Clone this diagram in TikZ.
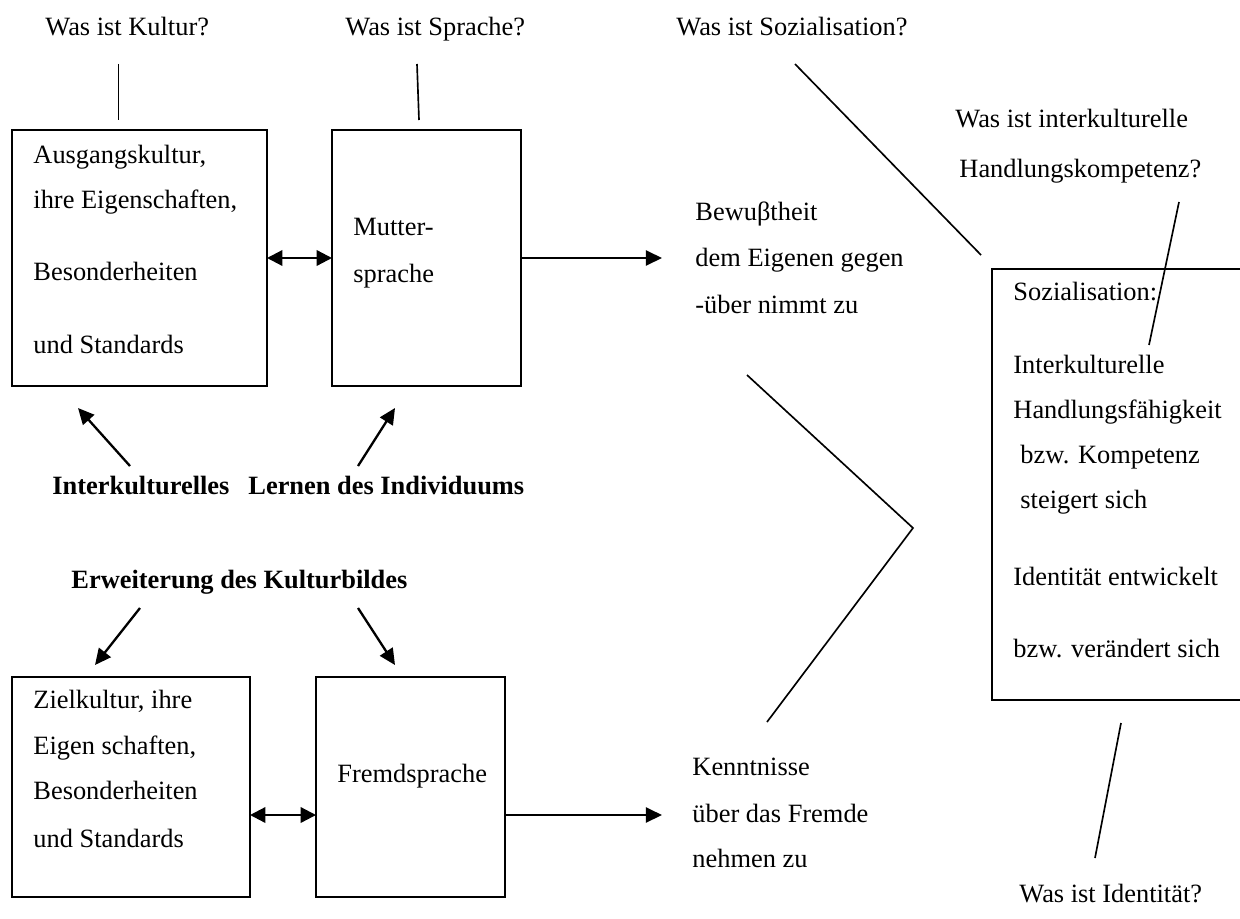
\documentclass[tikz,border=0pt]{standalone}
\usepackage{fontspec}
\setmainfont{Liberation Serif}
\usetikzlibrary{arrows.meta}
\newcommand\pxu{0.4545pt}
\begin{document}
\begin{tikzpicture}[x=0.4545pt,y=-0.4545pt,
  lbl/.style={anchor=mid west, inner sep=0pt, font=\fontsize{12}{14}\selectfont},
  blbl/.style={anchor=mid west, inner sep=0pt, font=\fontsize{12}{14}\selectfont\bfseries},
  frame/.style={draw, line width=0.9pt, anchor=north west, inner sep=0pt, outer sep=0pt},
  thinline/.style={line width=0.75pt},
  arr/.style={line width=1.05pt, -{Triangle[length=7.3pt,width=6.8pt]}},
  dbl/.style={line width=1.05pt, {Triangle[length=7pt,width=7pt]}-{Triangle[length=7pt,width=7pt]}}]

\useasboundingbox (0,0) rectangle (1240,918);
\fill[white] (0,0) rectangle (1240,918);
\clip (0,0) rectangle (1240,918);

% boxes
\node[frame, minimum width=255*\pxu, minimum height=256*\pxu] (boxA) at (12,130) {};
\node[frame, minimum width=189*\pxu, minimum height=256*\pxu] (boxB) at (332,130) {};
\node[frame, minimum width=238*\pxu, minimum height=220*\pxu] (boxC) at (12,677) {};
\node[frame, minimum width=189*\pxu, minimum height=220*\pxu] (boxD) at (316,677) {};
\node[frame, minimum width=268*\pxu, minimum height=431*\pxu] (boxE) at (992,269) {};

% questions
\node[lbl] (qKultur) at (45,30) {Was ist Kultur?};
\node[lbl] (qSprache) at (345,30) {Was ist Sprache?};
\node[lbl] (qSoz) at (676,30) {Was ist Sozialisation?};
\node[lbl] (qIkA) at (955,122) {Was ist interkulturelle};
\node[lbl] (qIkB) at (959,172) {Handlungskompetenz?};
\node[lbl] (qIdent) at (1019,897) {Was ist Identität?};

% text of the first box
\node[lbl] (a1) at (33,158) {Ausgangskultur,};
\node[lbl] (a2) at (33,203) {ihre Eigenschaften,};
\node[lbl] (a3) at (33,275) {Besonderheiten};
\node[lbl] (a4) at (33,348) {und Standards};
\node[lbl] (b1) at (353,230) {Mutter-};
\node[lbl] (b2) at (353,277) {sprache};

% text of the lower boxes
\node[lbl] (c1) at (33,703) {Zielkultur, ihre};
\node[lbl] (c2) at (33,749) {Eigen schaften,};
\node[lbl] (c3) at (33,794) {Besonderheiten};
\node[lbl] (c4) at (33,842) {und Standards};
\node[lbl] (d1) at (337,777) {Fremdsprache};

% outcomes
\node[lbl] (bew1) at (695,215) {Bewuβtheit};
\node[lbl] (bew2) at (695,261) {dem Eigenen gegen};
\node[lbl] (bew3) at (695,308) {-über nimmt zu};
\node[lbl] (ken1) at (692,770) {Kenntnisse};
\node[lbl] (ken2) at (692,817) {über das Fremde};
\node[lbl] (ken3) at (692,862) {nehmen zu};

% socialisation box
\node[lbl] (e1) at (1013,295) {Sozialisation:};
\node[lbl] (e2) at (1013,368) {Interkulturelle};
\node[lbl] (e3) at (1013,413) {Handlungsfähigkeit};
\node[lbl] (e4) at (1020,458) {bzw. Kompetenz};
\node[lbl] (e5) at (1020,503) {steigert sich};
\node[lbl] (e6) at (1013,580) {Identität entwickelt};
\node[lbl] (e7) at (1013,652) {bzw. verändert sich};

% bold headings
\node[blbl] (lernen) at (52,489) {Interkulturelles\hspace{0.72em}Lernen des Individuums};
\node[blbl] (erw) at (71,583) {Erweiterung des Kulturbildes};

% line end points
\coordinate (kTop) at (118.5,64);   \coordinate (kBot) at (118.5,120);
\coordinate (sTop) at (417,64);     \coordinate (sBot) at (419,120);
\coordinate (zTop) at (795,64);     \coordinate (zBot) at (981,255);
\coordinate (hTop) at (1179,202);   \coordinate (hBot) at (1149,345);
\coordinate (iTop) at (1121,723);   \coordinate (iBot) at (1095,858);
\coordinate (vA) at (747,375); \coordinate (vB) at (913,528); \coordinate (vC) at (767,722);
\coordinate (bewTip) at (662,257);
\coordinate (kenTip) at (662,815);
\coordinate (lowY) at (0,815);
\coordinate (lA) at (130,466); \coordinate (lAtip) at (78,408);
\coordinate (lB) at (358,466); \coordinate (lBtip) at (395,408);
\coordinate (eA) at (140,608); \coordinate (eAtip) at (95,665);
\coordinate (eB) at (358,608); \coordinate (eBtip) at (395,665);

% plain lines
\draw[thinline] (kTop) -- (kBot);
\draw[thinline] (sTop) -- (sBot);
\draw[thinline] (zTop) -- (zBot);
\draw[thinline] (hTop) -- (hBot);
\draw[thinline] (iTop) -- (iBot);
\draw[thinline] (vA) -- (vB) -- (vC);

% arrows
\draw[dbl] (boxA.east) -- (boxB.west);
\draw[arr] (boxB.east) -- (boxB.east -| bewTip);
\draw[dbl] (boxC.east |- lowY) -- (boxD.west |- lowY);
\draw[arr] (boxD.east |- lowY) -- (kenTip);
\draw[arr] (lA) -- (lAtip);
\draw[arr] (lB) -- (lBtip);
\draw[arr] (eA) -- (eAtip);
\draw[arr] (eB) -- (eBtip);
\end{tikzpicture}
\end{document}
